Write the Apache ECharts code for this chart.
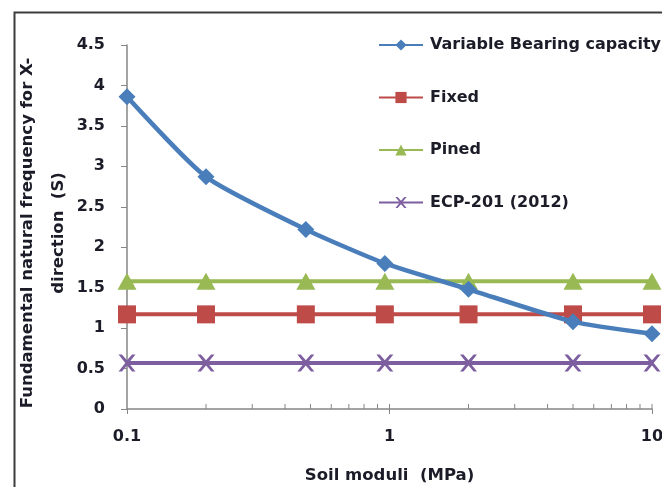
<!DOCTYPE html>
<html>
<head>
<meta charset="utf-8">
<script src="https://cdn.jsdelivr.net/npm/echarts@6/dist/echarts.min.js"></script>
<style>
html,body{margin:0;padding:0;background:#fff;}
#c{width:662px;height:487px;}
</style>
</head>
<body>
<div id="c"></div>
<script>
// ---- data ----
var soilModuli = [0.1, 0.2, 0.48, 0.96, 2, 5, 10];
var variableBearing = [3.86, 2.87, 2.22, 1.80, 1.48, 1.08, 0.93];
var fixedVals = [1.17, 1.17, 1.17, 1.17, 1.17, 1.17, 1.17];
var pinedVals = [1.58, 1.58, 1.58, 1.58, 1.58, 1.58, 1.58];
var ecpVals = [0.57, 0.57, 0.57, 0.57, 0.57, 0.57, 0.57];
var seriesNames = ['Variable Bearing capacity', 'Fixed', 'Pined', 'ECP-201 (2012)'];
var xMinorTicks = [0.2, 0.3, 0.4, 0.5, 0.6, 0.7, 0.8, 0.9, 1, 2, 3, 4, 5, 6, 7, 8, 9, 10];
var yTicks = ['0', '0.5', '1', '1.5', '2', '2.5', '3', '3.5', '4', '4.5'];
var xTickLabels = ['0.1', '1', '10'];

function pairs(xs, ys) { return xs.map(function (x, i) { return [x, ys[i]]; }); }

var FONT = 'DejaVu Sans';
var TXT = '#1c1c28';
var AX = '#868686';

var chart = echarts.init(document.getElementById('c'), null, {renderer: 'canvas'});
chart.setOption({
  animation: false,
  backgroundColor: '#fff',
  textStyle: {fontFamily: FONT},
  graphic: [{
    type: 'rect', left: 12, top: 10,
    shape: {width: 700, height: 520},
    style: {fill: 'none', stroke: '#3c3c3c', lineWidth: 2},
    silent: true
  }],
  grid: {left: 127, right: 10, top: 45, bottom: 78, containLabel: false, outerBoundsMode: 'none'},
  legend: {
    data: seriesNames,
    orient: 'vertical',
    left: 378, top: 35, padding: 0,
    itemWidth: 44, itemHeight: 14,
    itemGap: 32.5,
    textStyle: {fontFamily: FONT, fontSize: 16, fontWeight: 'bold', color: TXT, lineHeight: 20, padding: [0,0,0,2]}
  },
  xAxis: {
    type: 'log', logBase: 10, min: 0.1, max: 10,
    name: 'Soil moduli  (MPa)', nameLocation: 'middle', nameGap: 58, nameMoveOverlap: false,
    nameTextStyle: {fontFamily: FONT, fontSize: 16.5, fontWeight: 'bold', color: TXT},
    axisLine: {show: true, lineStyle: {color: AX, width: 1.5}},
    axisTick: {show: true, length: 5, lineStyle: {color: AX}},
    splitLine: {show: false},
    axisLabel: {
      fontFamily: FONT, fontSize: 16, fontWeight: 'bold', color: TXT, margin: 20,
      formatter: function (v) {
        var s = String(+(+v).toPrecision(3));
        return xTickLabels.indexOf(s) >= 0 ? s : '';
      }
    }
  },
  yAxis: {
    type: 'value', min: 0, max: 4.5, interval: 0.5,
    name: 'Fundamental natural frequency for X-\ndirection  (S)',
    nameLocation: 'middle', nameGap: 53, nameRotate: 90, nameMoveOverlap: false,
    nameTextStyle: {fontFamily: FONT, fontSize: 16.5, fontWeight: 'bold', color: TXT, lineHeight: 31, align: 'center', padding: [0, 12, 0, 0]},
    axisLine: {show: true, lineStyle: {color: AX, width: 1.5}},
    axisTick: {show: true, length: 6, lineStyle: {color: AX}},
    splitLine: {show: false},
    axisLabel: {
      fontFamily: FONT, fontSize: 16, fontWeight: 'bold', color: TXT, margin: 22,
      formatter: function (v) { var s = String(+(+v).toFixed(1)); return yTicks.indexOf(s) >= 0 ? s : ''; }
    }
  },
  series: [
    {
      type: 'custom', silent: true, z: 1,
      data: xMinorTicks.map(function (x) { return [x, 0]; }),
      renderItem: function (params, api) {
        var p = api.coord([api.value(0), api.value(1)]);
        return {type: 'line', shape: {x1: p[0], y1: p[1], x2: p[0], y2: p[1] - 5},
                style: {stroke: AX, lineWidth: 1}};
      }
    },
    {
      name: seriesNames[0], type: 'line', smooth: 0.2, data: pairs(soilModuli, variableBearing),
      symbol: 'diamond', symbolSize: 17,
      lineStyle: {color: '#4a7ebb', width: 4.5}, itemStyle: {color: '#4a7ebb'}, z: 5
    },
    {
      name: seriesNames[1], type: 'line', data: pairs(soilModuli, fixedVals),
      symbol: 'rect', symbolSize: 18,
      lineStyle: {color: '#be4b48', width: 4}, itemStyle: {color: '#be4b48'}, z: 4
    },
    {
      name: seriesNames[2], type: 'line', data: pairs(soilModuli, pinedVals),
      symbol: 'triangle', symbolSize: [19, 17],
      lineStyle: {color: '#98b954', width: 4}, itemStyle: {color: '#98b954'}, z: 3
    },
    {
      name: seriesNames[3], type: 'line', data: pairs(soilModuli, ecpVals),
      symbol: 'path://M0,0 L2,0 L5,3.5 L8,0 L10,0 L6,5 L10,10 L8,10 L5,6.5 L2,10 L0,10 L4,5 Z',
      symbolSize: 17,
      lineStyle: {color: '#7d5fa0', width: 4}, itemStyle: {color: '#7d5fa0'}, z: 3
    }
  ]
});
</script>
</body>
</html>
